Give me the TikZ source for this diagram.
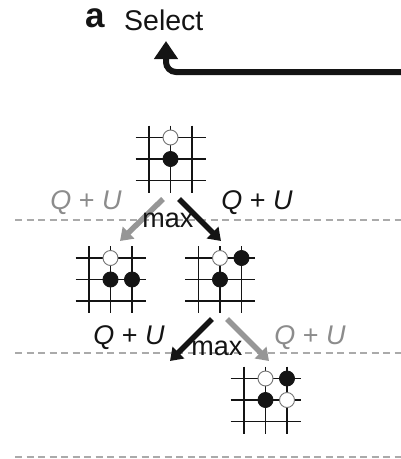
\documentclass[tikz,border=0pt]{standalone}
\usepackage{fontspec}
\setmainfont{Liberation Sans}
\usetikzlibrary{arrows.meta}
\definecolor{arrowgray}{RGB}{150,150,150}
\definecolor{dashgray}{RGB}{170,170,170}
\definecolor{txtgray}{RGB}{140,140,140}
\definecolor{inkblack}{RGB}{20,20,20}
\tikzset{
 gridline/.style={line width=1.3pt, inkblack},
 wstone/.style={circle, draw=black!55, fill=white, line width=0.9pt, minimum size=15pt, inner sep=0pt},
 bstone/.style={circle, draw=inkblack, fill=inkblack, line width=0.9pt, minimum size=15pt, inner sep=0pt},
 levelline/.style={dashgray, line width=1.6pt, dash pattern=on 7pt off 4.5pt},
 movearrow/.style={line width=5.5pt, -{Triangle[width=16pt,length=12pt]}},
 lbl/.style={font=\fontsize{27}{30}\selectfont, inner sep=0pt, anchor=base},
}
\newcommand\goboard[2]{%
 \begin{scope}[shift={(#1,#2)}]
 \foreach \d in {-21.5,0,21.5} {
   \draw[gridline] (-35,\d) -- (35,\d);
   \draw[gridline] (\d,-33.5) -- (\d,33.5);
 }
 \end{scope}
}
\begin{document}
\begin{tikzpicture}[x=1pt,y=-1pt]
\useasboundingbox (0,0) rectangle (401,459);
% header
\node[font=\bfseries\fontsize{35}{36}\selectfont, inner sep=0pt, anchor=base west, text=inkblack] (lbla) at (85,27) {a};
\node[font=\fontsize{28.5}{32}\selectfont, inner sep=0pt, anchor=base west, text=inkblack] (sel) at (124,30) {Select};
\coordinate (selstart) at (401,72);
\coordinate (selcorner) at (166,72);
\coordinate (seltip) at (166,41);
\draw[inkblack, line width=6pt, rounded corners=10pt, -{Triangle[width=23pt,length=18pt]}] (selstart) -- (selcorner) -- (seltip);
% level lines
\coordinate (l1a) at (15,220); \coordinate (l1b) at (401,220);
\coordinate (l2a) at (15,353); \coordinate (l2b) at (401,353);
\coordinate (l3a) at (15,457); \coordinate (l3b) at (401,457);
\draw[levelline] (l1a) -- (l1b);
\draw[levelline] (l2a) -- (l2b);
\draw[levelline] (l3a) -- (l3b);
% boards
\goboard{170.5}{159}
\node[wstone] (t1) at (170.5,137.5) {};
\node[bstone] (t2) at (170.5,159) {};
\goboard{110.5}{279.5}
\node[wstone] (a1) at (110.5,258) {};
\node[bstone] (a2) at (110.5,279.5) {};
\node[bstone] (a3) at (132,279.5) {};
\goboard{220}{279.5}
\node[wstone] (b1) at (220,258) {};
\node[bstone] (b2) at (241.5,258) {};
\node[bstone] (b3) at (220,279.5) {};
\goboard{265.5}{400}
\node[wstone] (c1) at (265.5,378.5) {};
\node[bstone] (c2) at (287,378.5) {};
\node[bstone] (c3) at (265.5,400) {};
\node[wstone] (c4) at (287,400) {};
% arrows level 1
\coordinate (g1s) at (163,199); \coordinate (g1e) at (120,241);
\coordinate (k1s) at (179,199); \coordinate (k1e) at (221,241);
\draw[movearrow, arrowgray] (g1s) -- (g1e);
\draw[movearrow, inkblack] (k1s) -- (k1e);
% arrows level 2
\coordinate (k2s) at (212,319); \coordinate (k2e) at (170,361);
\coordinate (g2s) at (227,319); \coordinate (g2e) at (269,361);
\draw[movearrow, inkblack] (k2s) -- (k2e);
\draw[movearrow, arrowgray] (g2s) -- (g2e);
% labels
\node[lbl, text=txtgray] (q1) at (86,209) {\textit{Q} + \textit{U}};
\node[lbl, text=inkblack] (q2) at (257,209) {\textit{Q} + \textit{U}};
\node[lbl, text=inkblack] (m1) at (168,227) {max};
\node[lbl, text=inkblack] (q3) at (129,344) {\textit{Q} + \textit{U}};
\node[lbl, text=txtgray] (q4) at (310,344) {\textit{Q} + \textit{U}};
\node[lbl, text=inkblack] (m2) at (217,355) {max};
\end{tikzpicture}
\end{document}
